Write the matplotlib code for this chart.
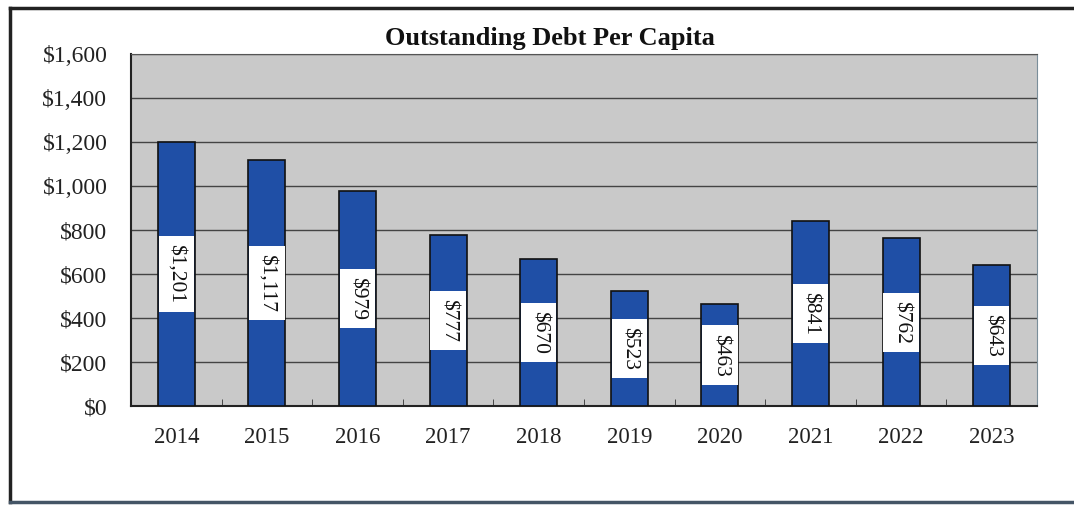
import matplotlib.pyplot as plt
from matplotlib.lines import Line2D
from matplotlib.ticker import FuncFormatter, MultipleLocator

years = ['2014', '2015', '2016', '2017', '2018', '2019', '2020', '2021', '2022', '2023']
debt_per_capita = [1201, 1117, 979, 777, 670, 523, 463, 841, 762, 643]

plt.rcParams['font.family'] = ['Liberation Serif', 'DejaVu Serif']

fig = plt.figure(figsize=(10.74, 5.05), dpi=100)
ax = fig.add_axes([131 / 1074, 1 - 406 / 505, (1037 - 131) / 1074, (406 - 54) / 505])

x = range(len(years))
ax.bar(x, debt_per_capita, width=0.41, color='#1f4fa6', edgecolor='#111111', linewidth=1.2, zorder=3)

for i, v in enumerate(debt_per_capita):
    ax.text(i, v / 2, f'${v:,}', rotation=270, ha='center', va='center', fontsize=15.5,
            color='#111111', zorder=4,
            bbox=dict(boxstyle='square,pad=0.38', facecolor='white', edgecolor='none'))

ax.set_facecolor('#c9c9c9')
ax.set_xlim(-0.5, len(years) - 0.5)
ax.set_ylim(0, 1600)
ax.yaxis.set_major_locator(MultipleLocator(200))
ax.yaxis.set_major_formatter(FuncFormatter(lambda v, p: f'${int(v):,}'))
ax.grid(axis='y', color='#444444', linewidth=1.0, zorder=1)

ax.set_xticks(list(x))
ax.set_xticklabels(years)
ax.set_xticks([i + 0.5 for i in range(len(years) - 1)], minor=True)
ax.tick_params(axis='x', which='major', length=0, labelsize=16.5, pad=15, colors='#222222')
ax.tick_params(axis='x', which='minor', direction='in', length=5, color='#333333')
ax.tick_params(axis='y', length=0, labelsize=17, pad=17, colors='#222222')

for side in ['left', 'bottom']:
    ax.spines[side].set_color('#222222')
    ax.spines[side].set_linewidth(1.5)
ax.spines['top'].set_color('#555555')
ax.spines['right'].set_color('#7a8e9a')

fig.text(550 / 1074, 1 - 38 / 505, 'Outstanding Debt Per Capita', ha='center', va='center',
         fontsize=19, fontweight='bold', color='#111111')

# outer frame
fig.add_artist(Line2D([10 / 1074, 10 / 1074], [1 - 8 / 505, 1 - 502 / 505], color='#222222', linewidth=2.5))
fig.add_artist(Line2D([10 / 1074, 1.0], [1 - 8 / 505, 1 - 8 / 505], color='#222222', linewidth=2.5))
fig.add_artist(Line2D([10 / 1074, 1.0], [1 - 502 / 505, 1 - 502 / 505], color='#445566', linewidth=2.5))

fig.savefig('out.png', dpi=100)
